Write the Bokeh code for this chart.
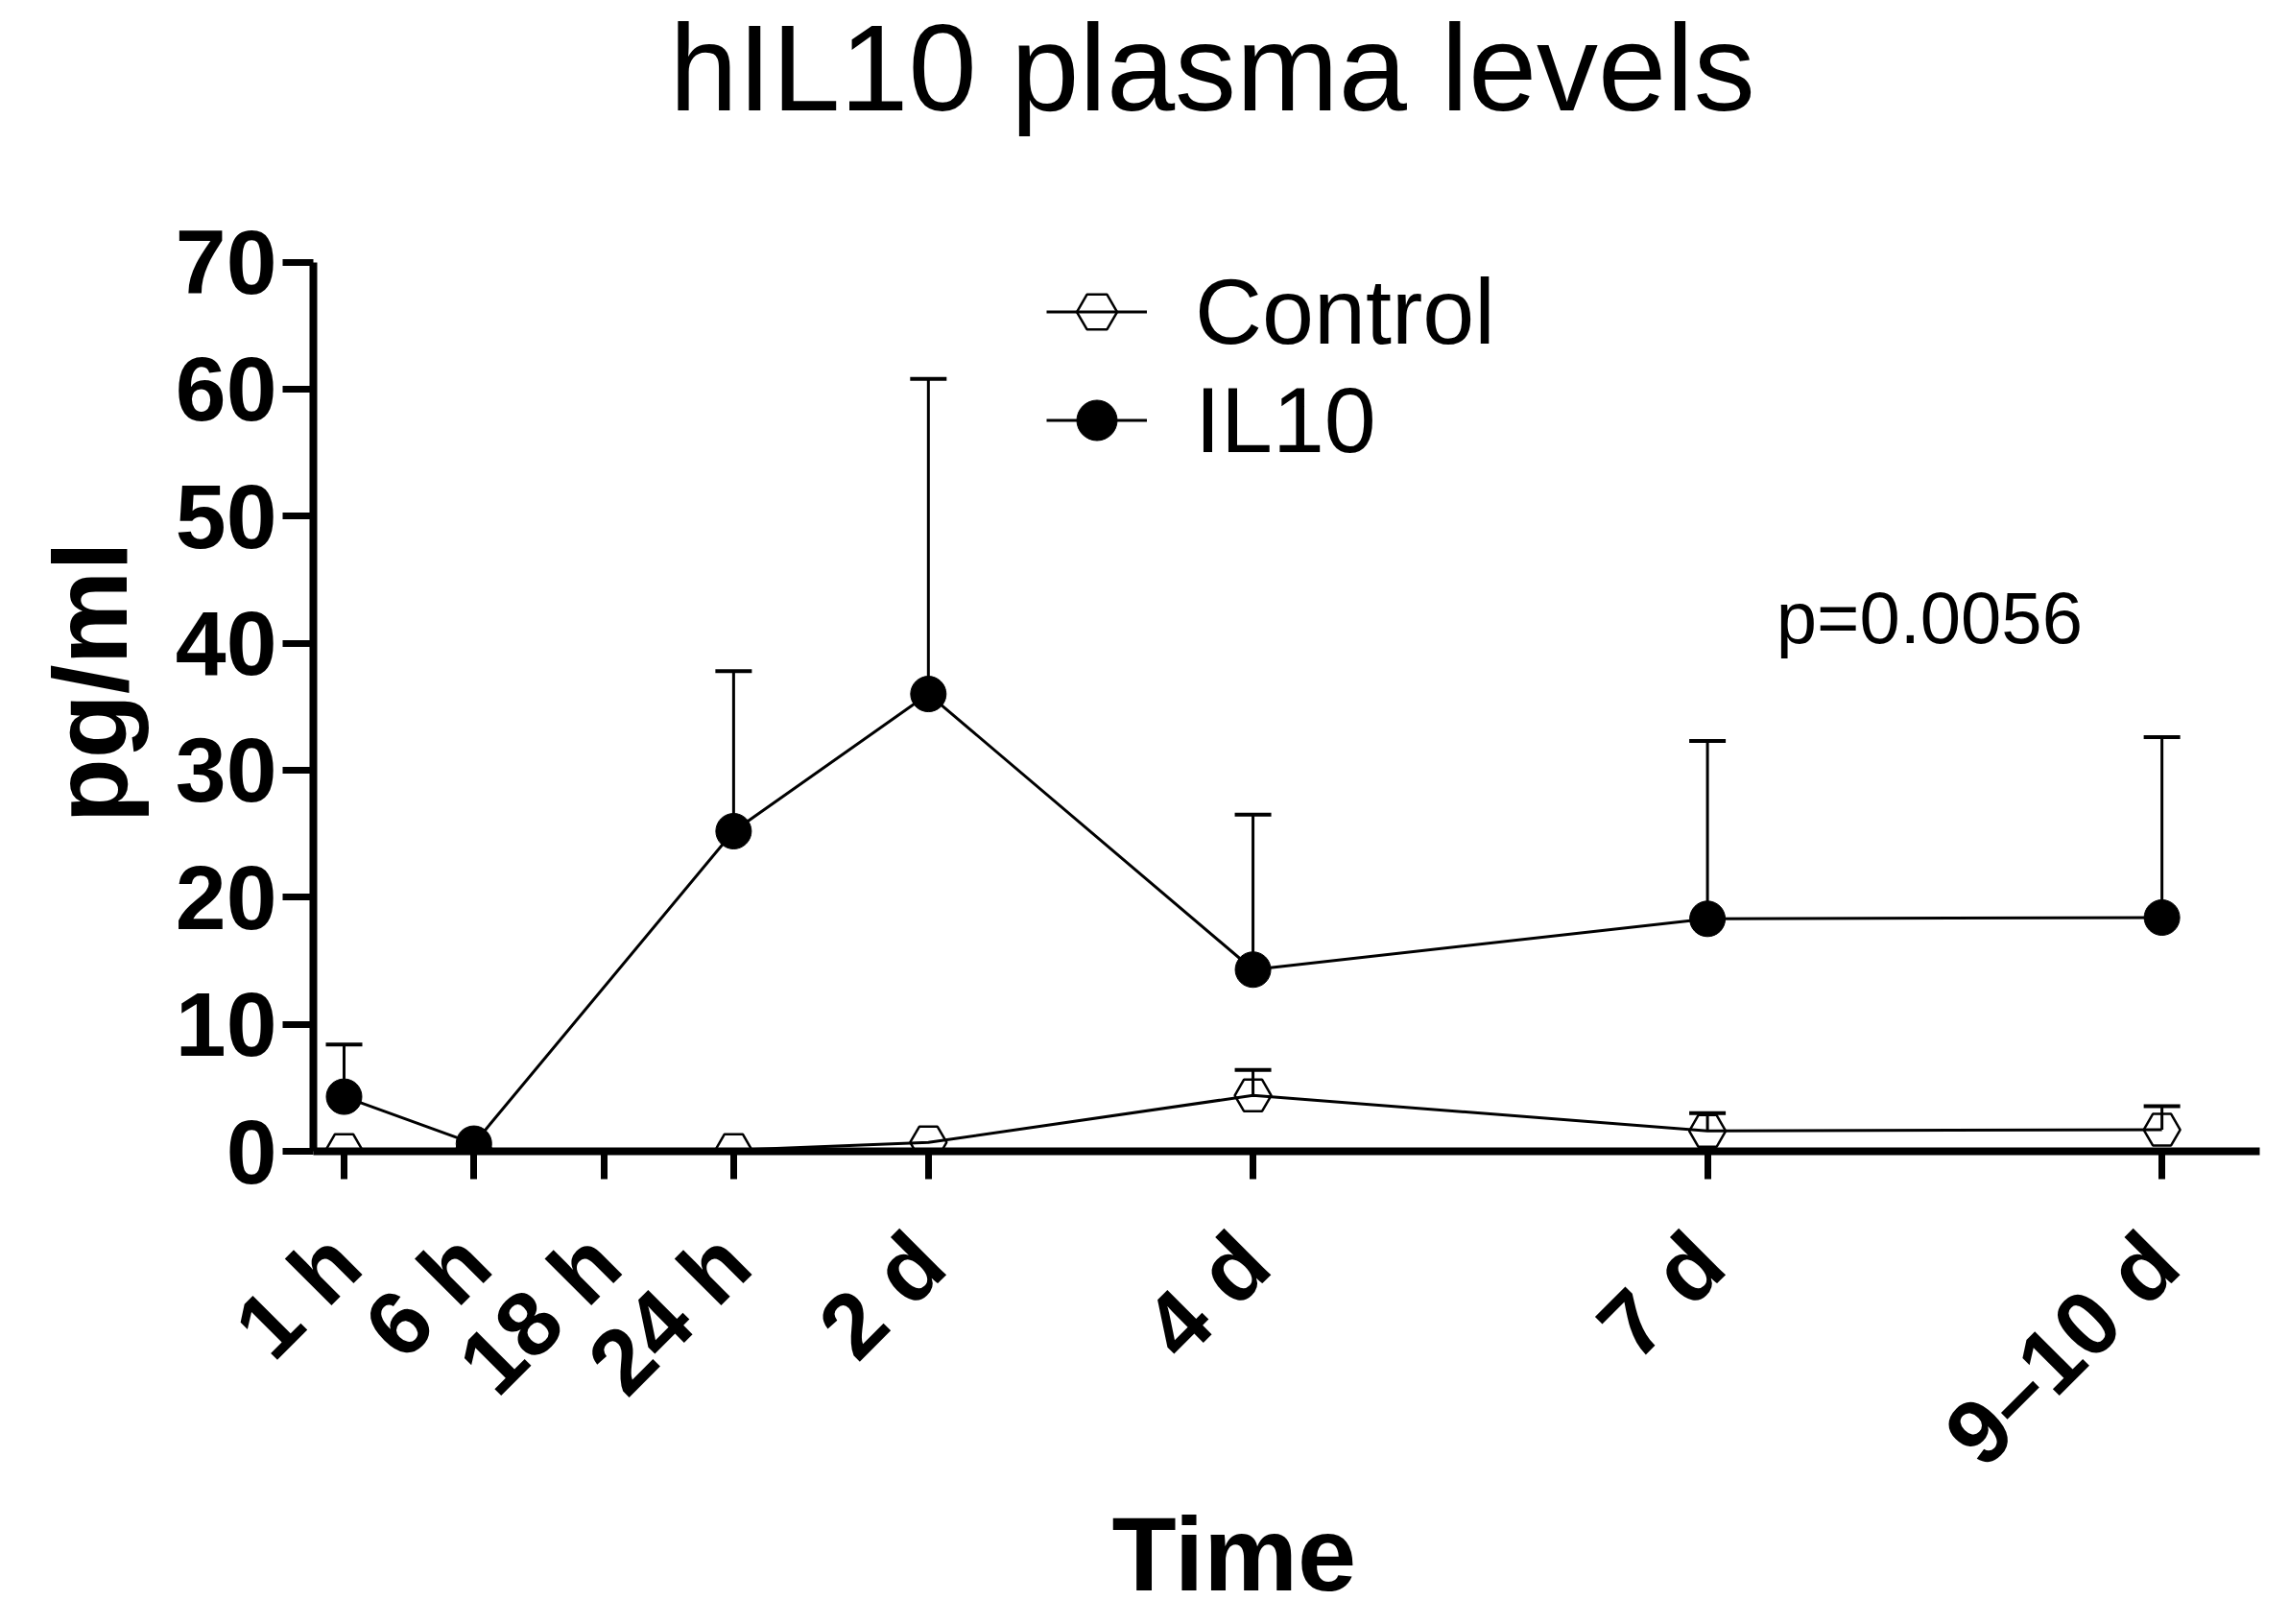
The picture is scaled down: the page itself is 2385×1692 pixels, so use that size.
import math
from bokeh.plotting import figure
from bokeh.models import (Range1d, LinearAxis, FixedTicker, Whisker, TeeHead,
                          ColumnDataSource, Legend, LegendItem, Label, Title)
from bokeh.embed import file_html
from bokeh.resources import INLINE

# ---------------- data ----------------
time_labels = ["1 h", "6 h", "18 h", "24 h", "2 d", "4 d", "7 d", "9–10 d"]
time_pos = [0, 1, 2, 3, 4.5, 7, 10.5, 14]          # x value of each time point

ctrl_time = ["1 h", "6 h", "24 h", "2 d", "4 d", "7 d", "9–10 d"]
ctrl_mean = [0.1, 0.1, 0.1, 0.7, 4.4, 1.6, 1.7]
ctrl_sd = [None, None, None, None, 2.0, 1.4, 1.85]

il10_time = ["1 h", "6 h", "24 h", "2 d", "4 d", "7 d", "9–10 d"]
il10_mean = [4.3, 0.6, 25.2, 36.0, 14.3, 18.3, 18.4]
il10_sd = [4.1, None, 12.6, 24.8, 12.2, 14.0, 14.2]

y_ticks = [0, 10, 20, 30, 40, 50, 60, 70]
p_text = "p=0.0056"

FONT = "Liberation Sans"
pos = dict(zip(time_labels, time_pos))

p = figure(frame_width=2028, frame_height=1199,
           x_range=Range1d(-0.2365, 14.753), y_range=Range1d(0, 90.6),
           min_border_left=326, min_border_top=0, min_border_right=15,
           min_border_bottom=485, x_axis_type=None, y_axis_type=None,
           output_backend="svg", toolbar_location=None)
p.outline_line_color = None
p.background_fill_color = "white"
p.border_fill_color = "white"

# ---------------- axes ----------------
yaxis = LinearAxis(ticker=FixedTicker(ticks=y_ticks), bounds=(0, 70),
                   axis_line_width=8, axis_line_color="black",
                   major_tick_line_width=7, major_tick_line_color="black",
                   major_tick_out=32, major_tick_in=0,
                   minor_tick_out=0, minor_tick_in=0,
                   major_label_text_font=FONT, major_label_text_font_style="bold",
                   major_label_text_font_size="95px", major_label_text_color="black",
                   major_label_standoff=6)
p.add_layout(yaxis, "left")

xaxis = LinearAxis(ticker=FixedTicker(ticks=time_pos),
                   major_label_overrides={k: v for k, v in zip(time_pos, time_labels)},
                   major_label_orientation=math.pi / 4,
                   axis_line_width=8, axis_line_color="black",
                   major_tick_line_width=7, major_tick_line_color="black",
                   major_tick_out=29, major_tick_in=0,
                   minor_tick_out=0, minor_tick_in=0,
                   major_label_text_font=FONT, major_label_text_font_style="bold",
                   major_label_text_font_size="95px", major_label_text_color="black",
                   major_label_standoff=72)
p.add_layout(xaxis, "below")

p.add_layout(Title(text="Time", align="left", offset=832, vertical_align="top",
                   standoff=-62, text_font=FONT, text_font_style="bold",
                   text_font_size="110px", text_color="black"), "below")
p.add_layout(Title(text="pg/ml", align="left", offset=342, vertical_align="bottom",
                   standoff=50, text_font=FONT, text_font_style="bold",
                   text_font_size="110px", text_color="black"), "left")

# ---------------- series ----------------
cx = [pos[t] for t in ctrl_time]
ix = [pos[t] for t in il10_time]

def err_source(xs, means, sds):
    xx, lo, hi = [], [], []
    for x, m, s in zip(xs, means, sds):
        if s is not None:
            xx.append(x); lo.append(m); hi.append(m + s)
    return ColumnDataSource(dict(x=xx, lower=lo, upper=hi))

for xs, ms, ss in [(cx, ctrl_mean, ctrl_sd), (ix, il10_mean, il10_sd)]:
    w = Whisker(source=err_source(xs, ms, ss), base="x", lower="lower", upper="upper",
                dimension="height", line_width=3, line_color="black",
                upper_head=TeeHead(size=38, line_width=4, line_color="black"),
                lower_head=None, level="underlay")
    p.add_layout(w)

cl = p.line(cx, ctrl_mean, line_width=3, line_color="black")
cs = p.scatter(cx, ctrl_mean, marker="hex", size=38, line_color="black",
               line_width=2.5, fill_alpha=0)
il = p.line(ix, il10_mean, line_width=3, line_color="black")
isc = p.scatter(ix, il10_mean, marker="circle", size=37, line_color="black",
                fill_color="black")

legend = Legend(items=[LegendItem(label="Control", renderers=[cl, cs]),
                       LegendItem(label="IL10", renderers=[il, isc])],
                location=(764, 705), glyph_width=105, glyph_height=113,
                label_height=113, spacing=0, padding=0, margin=0,
                label_standoff=50, border_line_alpha=0, background_fill_alpha=0,
                label_text_font=FONT, label_text_font_size="97px",
                label_text_color="black")
p.add_layout(legend)

# ---------------- texts ----------------
p.add_layout(Label(x=11.03, y=42.0, text=p_text, text_font=FONT,
                   text_font_size="76px", text_baseline="alphabetic",
                   text_align="left", text_color="black"))
p.add_layout(Label(x=6.686, y=85.3, text="hIL10 plasma levels", text_font=FONT,
                   text_font_size="128px", text_baseline="alphabetic",
                   text_align="center", text_color="black"))

open("out.html", "w").write(file_html(p, INLINE))
